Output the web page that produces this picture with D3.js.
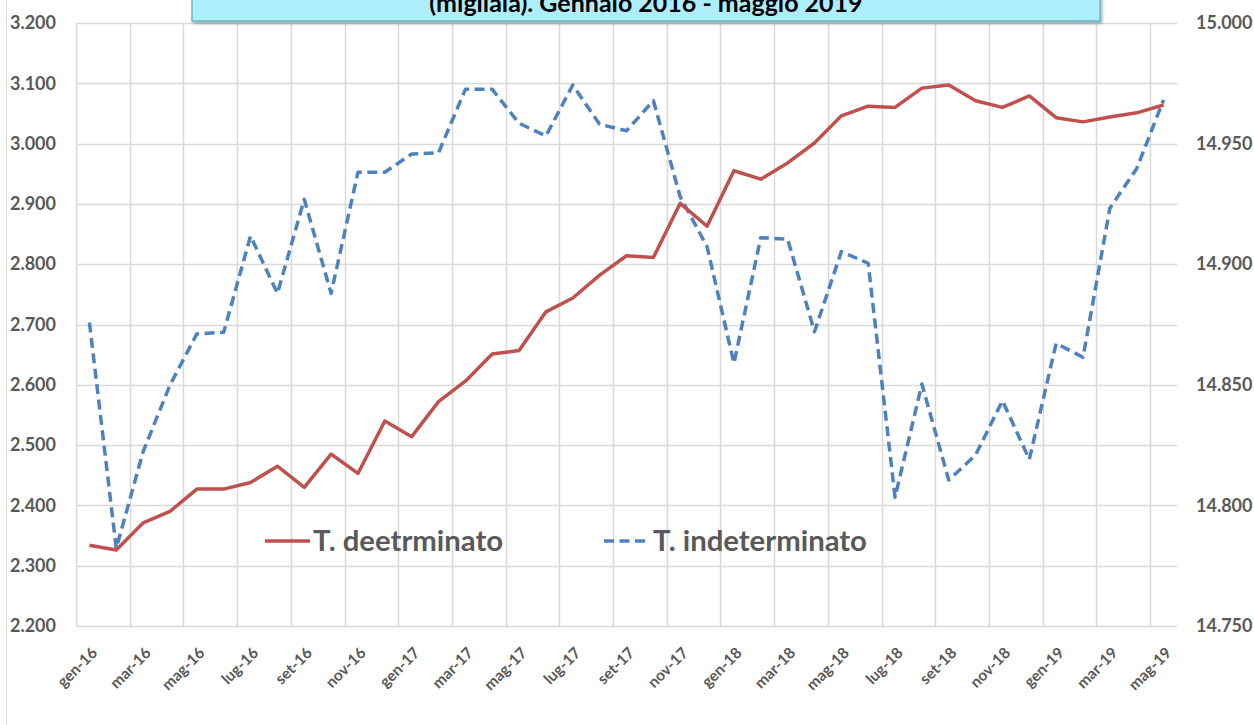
<!DOCTYPE html>
<html><head><meta charset="utf-8">
<script src="https://cdn.jsdelivr.net/npm/d3@7"></script>
<style>body{margin:0;background:#fff}svg{display:block}</style>
</head><body>
<svg id="c" width="1254" height="725"></svg>
<script>
const months = ["gen-16","feb-16","mar-16","apr-16","mag-16","giu-16","lug-16","ago-16","set-16","ott-16","nov-16","dic-16",
"gen-17","feb-17","mar-17","apr-17","mag-17","giu-17","lug-17","ago-17","set-17","ott-17","nov-17","dic-17",
"gen-18","feb-18","mar-18","apr-18","mag-18","giu-18","lug-18","ago-18","set-18","ott-18","nov-18","dic-18",
"gen-19","feb-19","mar-19","apr-19","mag-19"];
const determinato = [2334,2326,2371,2390,2427,2427,2438,2465,2430,2485,2453,2540,
2514,2572,2606,2651,2657,2721,2744,2782,2814,2811,2901,2863,
2955,2941,2968,3001,3046,3062,3060,3092,3097,3071,3060,3079,
3043,3036,3044,3051,3064];
const indeterminato = [14875.8,14782.2,14822.3,14849.9,14871.1,14871.8,14911.7,14887.9,14926.9,14887.9,14938.1,14938.1,
14945.7,14946.2,14972.5,14972.5,14958.4,14953.2,14974.3,14958.0,14955.3,14967.8,14928.0,14907.3,
14858.9,14911.0,14910.4,14872.0,14905.2,14900.4,14803.4,14850.3,14810.5,14820.9,14843.4,14819.1,
14867.2,14861.4,14923.2,14939.7,14968.1];
const leftTicks = [2200,2300,2400,2500,2600,2700,2800,2900,3000,3100,3200];
const rightTicks = [14750,14800,14850,14900,14950,15000];
const seriesNames = ["T. deetrminato","T. indeterminato"];
const titleText = "(migliaia). Gennaio 2016 - maggio 2019";

const svg = d3.select("#c");
const L = 76, R = 1177, T = 23, B = 626;
const FONT = "Lato, 'Open Sans', sans-serif";
const GREY = "#595959";
const loc = d3.formatLocale({decimal: ",", thousands: ".", grouping: [3], currency: ["", "€"]});
const fmt = loc.format(",.0f");

const x = d3.scaleBand().domain(months).range([L, R]);
const cx = m => x(m) + x.bandwidth() / 2;
const yL = d3.scaleLinear().domain([2200, 3200]).range([B, T]);
const yR = d3.scaleLinear().domain([14750, 15000]).range([B, T]);

// chart area left border
svg.append("line").attr("x1", 6.5).attr("x2", 6.5).attr("y1", 0).attr("y2", 725)
  .attr("stroke", "#d9d9d9").attr("stroke-width", 1);

// gridlines
const g = svg.append("g");
g.selectAll("line.h").data(leftTicks).join("line")
  .attr("x1", L).attr("x2", R)
  .attr("y1", d => Math.round(yL(d)) + 0.5).attr("y2", d => Math.round(yL(d)) + 0.5)
  .attr("stroke", "#d9d9d9").attr("stroke-width", 1.5);
g.selectAll("line.v").data(months.filter((m, i) => i % 2 === 0)).join("line")
  .attr("x1", d => Math.round(x(d)) + 0.5).attr("x2", d => Math.round(x(d)) + 0.5)
  .attr("y1", T).attr("y2", B)
  .attr("stroke", "#d9d9d9").attr("stroke-width", 1.5);

// axes
const ax1 = svg.append("g").attr("transform", `translate(${L},0)`)
  .call(d3.axisLeft(yL).tickValues(leftTicks).tickSize(0).tickPadding(20).tickFormat(fmt));
const ax2 = svg.append("g").attr("transform", `translate(${R},0)`)
  .call(d3.axisRight(yR).tickValues(rightTicks).tickSize(0).tickPadding(19).tickFormat(fmt));
[ax1, ax2].forEach(a => {
  a.select(".domain").remove();
  a.selectAll("text").attr("font-family", FONT).attr("font-size", 18).attr("font-weight", "bold").attr("fill", GREY);
});

const ax3 = svg.append("g").attr("transform", `translate(0,${B})`)
  .call(d3.axisBottom(x).tickValues(months.filter((m, i) => i % 2 === 0)).tickSize(0).tickPadding(0));
ax3.select(".domain").remove();
ax3.selectAll("text")
  .attr("font-family", FONT).attr("font-size", 15.5).attr("font-weight", "bold").attr("fill", GREY)
  .attr("text-anchor", "end").attr("dy", "0.35em")
  .attr("transform", "translate(5,24) rotate(-45)")
  .attr("y", 0).attr("x", 0);

// lines
const lineL = d3.line().x((d, i) => cx(months[i])).y(d => yL(d));
const lineR = d3.line().x((d, i) => cx(months[i])).y(d => yR(d));
svg.append("path").datum(indeterminato).attr("d", lineR)
  .attr("fill", "none").attr("stroke", "#4F81BD").attr("stroke-width", 3.5)
  .attr("stroke-dasharray", "10,5.5").attr("stroke-linejoin", "round");
svg.append("path").datum(determinato).attr("d", lineL)
  .attr("fill", "none").attr("stroke", "#C0504D").attr("stroke-width", 3.5)
  .attr("stroke-linejoin", "round");

// legend
const leg = svg.append("g");
leg.append("line").attr("x1", 265).attr("x2", 310).attr("y1", 541).attr("y2", 541)
  .attr("stroke", "#C0504D").attr("stroke-width", 3.5);
leg.append("text").attr("x", 313).attr("y", 541).attr("dy", "0.35em").text(seriesNames[0]);
leg.append("line").attr("x1", 604).attr("x2", 648).attr("y1", 541).attr("y2", 541)
  .attr("stroke", "#4F81BD").attr("stroke-width", 3.5).attr("stroke-dasharray", "10,5.5");
leg.append("text").attr("x", 653).attr("y", 541).attr("dy", "0.35em").text(seriesNames[1]);
leg.selectAll("text").attr("font-family", FONT).attr("font-size", 29.3).attr("font-weight", "bold").attr("fill", GREY);

// title box
const defs = svg.append("defs");
const f = defs.append("filter").attr("id", "sh").attr("x", "-5%").attr("y", "-50%").attr("width", "110%").attr("height", "200%");
f.append("feDropShadow").attr("dx", 1.5).attr("dy", 2).attr("stdDeviation", 1.5).attr("flood-color", "#000").attr("flood-opacity", 0.35);
svg.append("rect").attr("x", 192).attr("y", -30).attr("width", 908).attr("height", 51)
  .attr("fill", "#AEEEFC").attr("stroke", "#4BACC6").attr("stroke-width", 1.2).attr("filter", "url(#sh)");
svg.append("text").attr("x", 646).attr("y", 12).attr("text-anchor", "middle")
  .attr("font-family", FONT).attr("font-size", 25).attr("font-weight", "bold").attr("fill", "#000")
  .text(titleText);
</script>
</body></html>
